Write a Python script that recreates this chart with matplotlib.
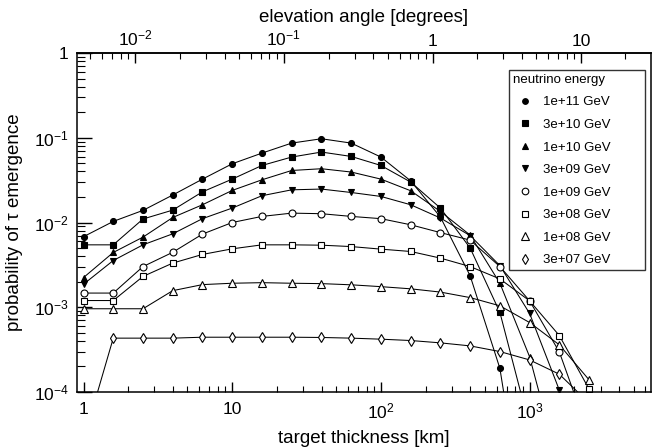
import numpy as np
import matplotlib.pyplot as plt
from matplotlib.lines import Line2D

plt.rcParams['font.family'] = 'Liberation Sans'
plt.rcParams['mathtext.fontset'] = 'custom'
plt.rcParams['mathtext.rm'] = 'Liberation Sans'
plt.rcParams['mathtext.it'] = 'Liberation Sans:italic'
plt.rcParams['mathtext.default'] = 'regular'

# target thickness grid [km], 5 points per decade
thickness = [1, 1.585, 2.512, 3.981, 6.310, 10, 15.85, 25.12, 39.81, 63.10,
             100, 158.5, 251.2, 398.1, 631.0, 1000, 1585, 2512]

# probability of tau emergence for each neutrino energy
p_1e11 = [0.0068, 0.0103, 0.0139, 0.0211, 0.0325, 0.0493, 0.0659, 0.0865, 0.0973,
          0.0865, 0.0592, 0.0310, 0.0116, 0.00235, 1.9e-4, 1.2e-6]
p_3e10 = [0.00545, 0.00545, 0.0110, 0.0140, 0.0230, 0.0325, 0.0471, 0.0592, 0.0678,
          0.0602, 0.0471, 0.0300, 0.0148, 0.0050, 8.7e-4, 3.9e-5]
p_1e10 = [0.00224, 0.00443, 0.00672, 0.01146, 0.0162, 0.0239, 0.0319, 0.0411, 0.0431,
          0.0394, 0.0325, 0.0237, 0.0135, 0.0071, 0.00192, 2.6e-4, 1.25e-5]
p_3e09 = [0.00187, 0.00356, 0.00545, 0.00735, 0.0111, 0.0148, 0.0207, 0.0243, 0.0248,
          0.0226, 0.0203, 0.0162, 0.0113, 0.0070, 0.0031, 8.45e-4, 1.05e-4]
p_1e09 = [0.00147, 0.00147, 0.00302, 0.00445, 0.0073, 0.0100, 0.0118, 0.0129, 0.0127,
          0.0118, 0.0111, 0.0094, 0.0076, 0.0062, 0.00302, 0.00119, 2.96e-4, 3.1e-5]
p_3e08 = [0.0012, 0.0012, 0.00231, 0.00332, 0.00420, 0.00489, 0.00545, 0.00545, 0.0054,
          0.0052, 0.00485, 0.00455, 0.0038, 0.00302, 0.00216, 0.00119, 4.63e-4, 1.08e-4]
p_1e08 = [0.00096, 0.00096, 0.00096, 0.00157, 0.00185, 0.00192, 0.00195, 0.00192, 0.0019,
          0.00184, 0.00175, 0.00165, 0.00151, 0.0013, 0.00104, 6.6e-4, 3.6e-4, 1.39e-4]
p_3e07 = [2.7e-5, 4.32e-4, 4.32e-4, 4.32e-4, 4.43e-4, 4.43e-4, 4.43e-4, 4.43e-4, 4.4e-4,
          4.32e-4, 4.2e-4, 4.05e-4, 3.8e-4, 3.5e-4, 3.0e-4, 2.39e-4, 1.62e-4, 7.4e-5]

energies = ['1e+11 GeV', '3e+10 GeV', '1e+10 GeV', '3e+09 GeV',
            '1e+09 GeV', '3e+08 GeV', '1e+08 GeV', '3e+07 GeV']
series = [p_1e11, p_3e10, p_1e10, p_3e09, p_1e09, p_3e08, p_1e08, p_3e07]

# marker, filled?, size
styles = [('o', True, 4.3), ('s', True, 4.2), ('^', True, 4.6), ('v', True, 4.6),
          ('o', False, 5.0), ('s', False, 5.0), ('^', False, 5.6), ('d', False, 5.2)]

fig = plt.figure(figsize=(6.54, 4.47), dpi=100)
ax = fig.add_axes([77 / 654, 1 - 392 / 447, (651 - 77) / 654, (392 - 53) / 447])
ax.set_xscale('log')
ax.set_yscale('log')

for p, (m, filled, ms) in zip(series, styles):
    ax.plot(thickness[:len(p)], p, color='black', lw=0.75, marker=m, ms=ms,
            mfc='black' if filled else 'white', mec='black', mew=0.8)

ax.set_xlim(0.904, 6550)
ax.set_ylim(1e-4, 1)

ax.set_xticks([1, 10, 100, 1000], labels=['1', '10', '$10^{2}$', '$10^{3}$'])
ax.set_yticks([1e-4, 1e-3, 1e-2, 1e-1, 1],
              labels=['$10^{-4}$', '$10^{-3}$', '$10^{-2}$', '$10^{-1}$', '1'])

ax.tick_params(axis='x', which='both', direction='in', top=False, bottom=True,
               labelsize=12.5, pad=7)
ax.tick_params(axis='x', which='major', length=7.5, width=1)
ax.tick_params(axis='x', which='minor', length=4, width=0.8)
ax.tick_params(axis='y', which='both', direction='in', left=True, right=False,
               labelsize=12.5, pad=6)
ax.tick_params(axis='y', which='major', length=11, width=1)
ax.tick_params(axis='y', which='minor', length=5.5, width=0.8)
for s in ax.spines.values():
    s.set_linewidth(1.1)

ax.set_xlabel('target thickness [km]', fontsize=13.5, labelpad=6)
ax.set_ylabel('probability of τ emergence', fontsize=13.5, labelpad=8)

# elevation angle of a chord through the Earth with the given length
chord = 2 * 6371.0


def km_to_deg(L):
    return np.degrees(np.arcsin(np.clip(np.asarray(L, dtype=float) / chord, 1e-12, 1)))


def deg_to_km(a):
    return chord * np.sin(np.radians(np.clip(np.asarray(a, dtype=float), 1e-12, 90)))


top = ax.secondary_xaxis('top', functions=(km_to_deg, deg_to_km))
top.set_xticks([0.01, 0.1, 1, 10], labels=['$10^{-2}$', '$10^{-1}$', '1', '10'])
top_minor = [k * 10.0 ** e for e in (-3, -2, -1, 0, 1) for k in range(2, 10)]
top_minor = [t for t in top_minor if 0.0045 < t < 30]
top.set_xticks(top_minor, minor=True)
top.set_xticklabels([], minor=True)
top.tick_params(which='both', direction='in', labelsize=12.5, pad=3)
top.tick_params(which='major', length=7.5, width=1)
top.tick_params(which='minor', length=4, width=0.8)
top.spines['top'].set_linewidth(1.1)
top.set_xlabel('elevation angle [degrees]', fontsize=13.5, labelpad=5)

handles = [Line2D([], [], ls='none', marker=m, ms=ms * 0.95, color='black',
                  mfc='black' if filled else 'white', mec='black', mew=0.8)
           for (m, filled, ms) in styles]
# legend box spans a fixed width; entries stay left-aligned inside it
leg = ax.legend(handles, energies, title='neutrino energy', loc='upper left',
                bbox_to_anchor=(509 / 654, 1 - 272 / 447, 136 / 654, 202 / 447),
                bbox_transform=fig.transFigure, mode='expand',
                borderaxespad=0, fontsize=9.5, title_fontsize=9.5, alignment='left',
                frameon=True, fancybox=False, edgecolor='#333333', framealpha=1,
                borderpad=0.3, handlelength=1.8, handletextpad=0.5, labelspacing=0.78)
leg.get_frame().set_linewidth(1.0)

fig.savefig('out.png', dpi=100)
